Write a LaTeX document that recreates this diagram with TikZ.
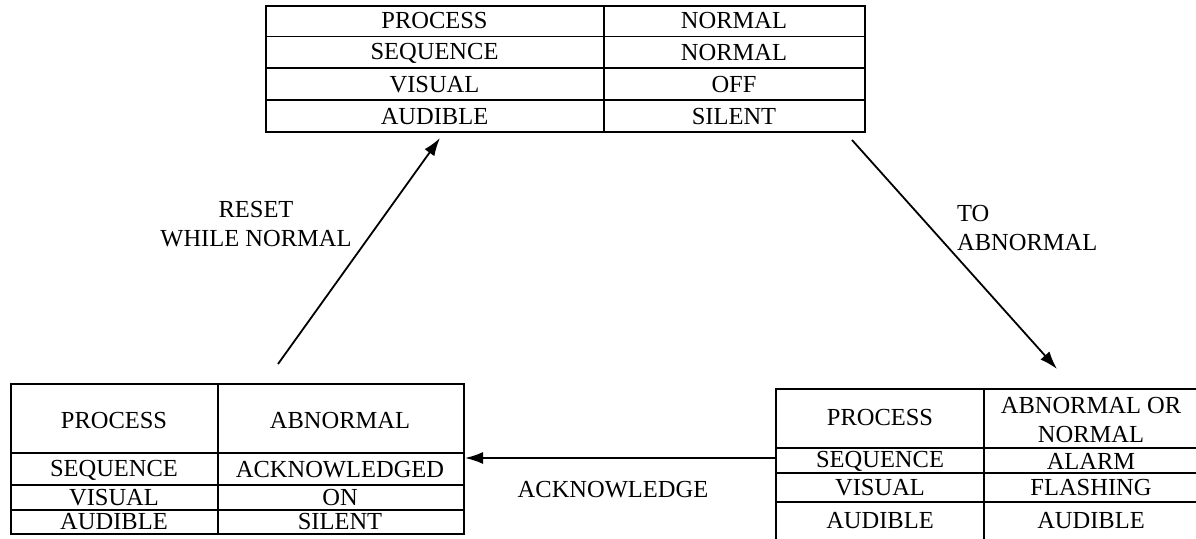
\documentclass[tikz,border=0pt]{standalone}
\usepackage{fontspec}
\setmainfont{Liberation Serif}
\usetikzlibrary{arrows.meta}
\begin{document}
\begin{tikzpicture}[x=1pt,y=-1pt,
  tbl/.style={draw, line width=1.5pt, inner sep=0pt, anchor=north west},
  cell/.style={font=\fontsize{24.5}{28}\selectfont, inner sep=0pt, align=center},
  lbl/.style={font=\fontsize{24.5}{29}\selectfont, inner sep=0pt},
  rule/.style={line width=1.3pt},
  arr/.style={line width=1.8pt, -{Latex[length=18pt,width=12pt]}}]
\useasboundingbox (0,0) rectangle (1196,538);

% ---------- top table ----------
\node[tbl, minimum width=599pt, minimum height=126pt] (top) at (265,5) {};
\draw[rule] (604,5) -- (604,131);
\draw[rule] (265,36.5) -- (864,36.5);
\draw[rule] (265,68) -- (864,68);
\draw[rule] (265,100) -- (864,100);
\node[cell] (t1) at (434.5,21) {PROCESS};
\node[cell] (t2) at (434.5,53) {SEQUENCE};
\node[cell] (t3) at (434.5,85) {VISUAL};
\node[cell] (t4) at (434.5,116.5) {AUDIBLE};
\node[cell] (t5) at (734,21) {NORMAL};
\node[cell] (t6) at (734,53) {NORMAL};
\node[cell] (t7) at (734,85) {OFF};
\node[cell] (t8) at (734,116.5) {SILENT};

% ---------- left table ----------
\node[tbl, minimum width=453pt, minimum height=150pt] (lt) at (10,383) {};
\draw[rule] (218,383) -- (218,533);
\draw[rule] (10,453) -- (463,453);
\draw[rule] (10,485) -- (463,485);
\draw[rule] (10,510) -- (463,510);
\node[cell] (l1) at (114,421) {PROCESS};
\node[cell] (l2) at (114,470) {SEQUENCE};
\node[cell] (l3) at (114,498) {VISUAL};
\node[cell] (l4) at (114,522) {AUDIBLE};
\node[cell] (l5) at (340,421) {ABNORMAL};
\node[cell] (l6) at (340,470) {ACKNOWLEDGED};
\node[cell] (l7) at (340,498) {ON};
\node[cell] (l8) at (340,522) {SILENT};

% ---------- right table ----------
\node[tbl, minimum width=425pt, minimum height=155pt] (rt) at (775,388) {};
\draw[rule] (984,388) -- (984,545);
\draw[rule] (775,448) -- (1200,448);
\draw[rule] (775,473) -- (1200,473);
\draw[rule] (775,502) -- (1200,502);
\node[cell] (r1) at (880,418) {PROCESS};
\node[cell, font=\fontsize{24.5}{29}\selectfont] (r5) at (1091,420) {ABNORMAL OR\\NORMAL};
\node[cell] (r2) at (880,461) {SEQUENCE};
\node[cell] (r3) at (880,488) {VISUAL};
\node[cell] (r4) at (880,521) {AUDIBLE};
\node[cell] (r6) at (1091,461) {ALARM};
\node[cell] (r7) at (1091,488) {FLASHING};
\node[cell] (r8) at (1091,521) {AUDIBLE};

% ---------- connectors ----------
\coordinate (a1s) at (278,364);
\coordinate (a1e) at (440,138);
\coordinate (a2s) at (852,140);
\coordinate (a2e) at (1057,369);
\coordinate (a3s) at (775,458);
\coordinate (a3e) at (465,458);
\draw[arr] (a1s) -- (a1e);
\draw[arr] (a2s) -- (a2e);
\draw[arr] (a3s) -- (a3e);

% ---------- labels ----------
\node[lbl, align=center] (reset) at (256,224) {RESET\\WHILE NORMAL};
\node[lbl, align=left, anchor=west] (toab) at (957,228) {TO\\ABNORMAL};
\node[lbl] (ack) at (613,490) {ACKNOWLEDGE};
\end{tikzpicture}
\end{document}
